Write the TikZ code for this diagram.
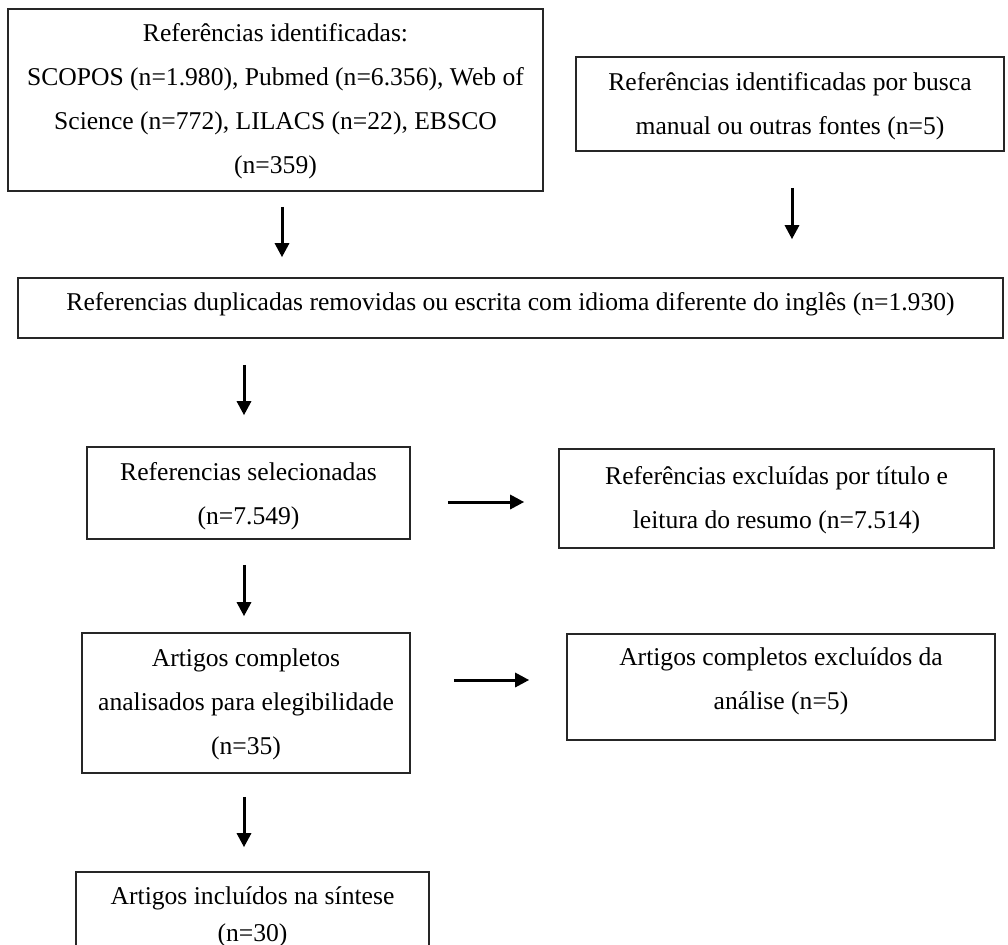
\documentclass[tikz,border=0pt]{standalone}
\usepackage{fontspec}
\setmainfont{Liberation Serif}
\usetikzlibrary{arrows.meta}
\begin{document}
\begin{tikzpicture}[x=0.5pt,y=-0.5pt,
  box/.style={draw=black!85, line width=0.8pt, inner sep=0pt, anchor=center},
  txt/.style={inner sep=0pt, align=center, anchor=center,
    font=\fontsize{12.8}{22}\selectfont},
  arr/.style={line width=1.5pt, -{Triangle[width=7pt,length=7pt]}}]
\clip (0,0) rectangle (1008,944);
\fill[white] (0,0) rectangle (1008,944);
% boxes
\node[box, minimum width=267.5pt, minimum height=91pt] (A) at (275.5,100) {};
\node[box, minimum width=214pt, minimum height=47pt] (B) at (790,104) {};
\node[box, minimum width=492.5pt, minimum height=30pt] (C) at (510.5,308) {};
\node[box, minimum width=161.5pt, minimum height=46pt] (D) at (248.5,493) {};
\node[box, minimum width=217.5pt, minimum height=49.5pt] (E) at (776.5,498.5) {};
\node[box, minimum width=164pt, minimum height=70pt] (F) at (246,703) {};
\node[box, minimum width=214pt, minimum height=53pt] (G) at (781,687) {};
\node[box, minimum width=176.5pt, minimum height=46pt] (H) at (252.5,918) {};
% texts
\node[txt] (At) at (275.5,101)
  {Referências identificadas:\\SCOPOS (n=1.980), Pubmed (n=6.356), Web of\\Science (n=772), LILACS (n=22), EBSCO\\(n=359)};
\node[txt] (Bt) at (790,106.5)
  {Referências identificadas por busca\\manual ou outras fontes (n=5)};
\node[txt] (Ct) at (510.5,304)
  {Referencias duplicadas removidas ou escrita com idioma diferente do inglês (n=1.930)};
\node[txt] (Dt) at (248.5,496.5)
  {Referencias selecionadas\\(n=7.549)};
\node[txt] (Et) at (776.5,500)
  {Referências excluídas por título e\\leitura do resumo (n=7.514)};
\node[txt] (Ft) at (246,704.5)
  {Artigos completos\\analisados para elegibilidade\\(n=35)};
\node[txt] (Gt) at (781,681)
  {Artigos completos excluídos da\\análise (n=5)};
\node[txt, font=\fontsize{12.8}{18.5}\selectfont] (Ht) at (252.5,917)
  {Artigos incluídos na síntese\\(n=30)};
% arrows
\coordinate (xa) at (282,0);
\coordinate (xb) at (792,0);
\coordinate (xc) at (244,0);
\coordinate (yd) at (0,502);
\coordinate (yf) at (0,680);
\draw[arr, shorten <=7.5pt, shorten >=10pt] (A.south -| xa) -- (C.north -| xa);
\draw[arr, shorten <=18pt, shorten >=19pt] (B.south -| xb) -- (C.north -| xb);
\draw[arr, shorten <=13pt, shorten >=15.5pt] (C.south -| xc) -- (D.north -| xc);
\draw[arr, shorten <=18.5pt, shorten >=17pt] (D.east |- yd) -- (E.west |- yd);
\draw[arr, shorten <=12.5pt, shorten >=8pt] (D.south -| xc) -- (F.north -| xc);
\draw[arr, shorten <=21.5pt, shorten >=18.5pt] (F.east |- yf) -- (G.west |- yf);
\draw[arr, shorten <=11.5pt, shorten >=12pt] (F.south -| xc) -- (H.north -| xc);
\end{tikzpicture}
\end{document}
